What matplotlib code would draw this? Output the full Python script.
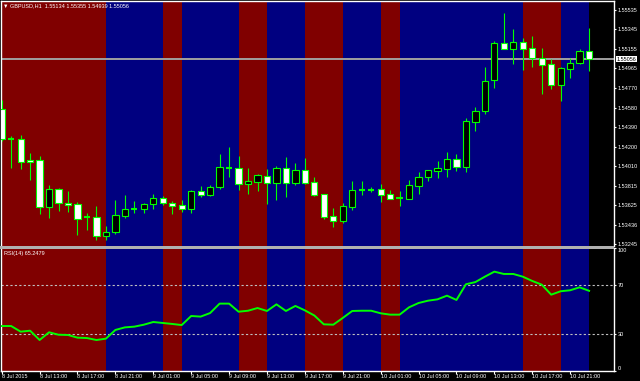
import numpy as np
import matplotlib.pyplot as plt
from matplotlib.patches import Rectangle
from matplotlib.transforms import blended_transform_factory

plt.rcParams['font.family'] = ['Liberation Sans', 'DejaVu Sans']

# GBPUSD H1 bars, 8 Jul 2015 09:00 .. 10 Jul 2015 23:00
opens = [1.54567, 1.54274, 1.54274, 1.54064, 1.54069, 1.53612, 1.53785, 1.53649, 1.53639, 1.53507,
         1.53512, 1.53329, 1.53368, 1.53524, 1.53590, 1.53587, 1.53642, 1.53695, 1.53649, 1.53626,
         1.53587, 1.53766, 1.53727, 1.53802, 1.53991, 1.53988, 1.53831, 1.53854, 1.53915, 1.53844,
         1.53988, 1.53841, 1.53968, 1.53854, 1.53733, 1.53522, 1.53470, 1.53609, 1.53771, 1.53776,
         1.53782, 1.53733, 1.53697, 1.53685, 1.53818, 1.53900, 1.53964, 1.53981, 1.54079, 1.54001,
         1.54443, 1.54545, 1.54848, 1.55215, 1.55151, 1.55222, 1.55161, 1.55069, 1.55004, 1.54799,
         1.54961, 1.55017, 1.55134]
highs = [1.54655, 1.54303, 1.54313, 1.54137, 1.54105, 1.53825, 1.53795, 1.53766, 1.53658, 1.53551,
         1.53622, 1.53427, 1.53675, 1.53727, 1.53668, 1.53651, 1.53737, 1.53717, 1.53668, 1.53678,
         1.53776, 1.53812, 1.53822, 1.54128, 1.54196, 1.54108, 1.53988, 1.53932, 1.53981, 1.54010,
         1.54098, 1.54039, 1.54085, 1.53906, 1.53737, 1.53600, 1.53649, 1.53864, 1.53861, 1.53802,
         1.53834, 1.53776, 1.53763, 1.53873, 1.53952, 1.53971, 1.54059, 1.54147, 1.54130, 1.54479,
         1.54584, 1.54981, 1.55229, 1.55503, 1.55346, 1.55264, 1.55278, 1.55161, 1.55053, 1.54978,
         1.55066, 1.55151, 1.55355]
lows = [1.54255, 1.53994, 1.53981, 1.53876, 1.53541, 1.53505, 1.53573, 1.53563, 1.53336, 1.53385,
        1.53284, 1.53290, 1.53349, 1.53499, 1.53554, 1.53554, 1.53591, 1.53629, 1.53544, 1.53558,
        1.53554, 1.53707, 1.53717, 1.53785, 1.53906, 1.53776, 1.53740, 1.53769, 1.53642, 1.53681,
        1.53710, 1.53821, 1.53839, 1.53717, 1.53489, 1.53417, 1.53450, 1.53583, 1.53730, 1.53753,
        1.53655, 1.53683, 1.53619, 1.53683, 1.53740, 1.53868, 1.53893, 1.53906, 1.53962, 1.53947,
        1.54355, 1.54516, 1.54773, 1.55151, 1.55004, 1.54952, 1.54975, 1.54717, 1.54766, 1.54649,
        1.54873, 1.55004, 1.54939]
closes = [1.54271, 1.54272, 1.54052, 1.54054, 1.53612, 1.53785, 1.53646, 1.53629, 1.53495, 1.53502,
          1.53329, 1.53368, 1.53534, 1.53590, 1.53595, 1.53639, 1.53695, 1.53651, 1.53622, 1.53587,
          1.53766, 1.53724, 1.53802, 1.53998, 1.53986, 1.53831, 1.53864, 1.53919, 1.53841, 1.53988,
          1.53841, 1.53968, 1.53847, 1.53724, 1.53512, 1.53473, 1.53616, 1.53773, 1.53776, 1.53781,
          1.53724, 1.53685, 1.53692, 1.53822, 1.53903, 1.53968, 1.53988, 1.54076, 1.54001, 1.54447,
          1.54545, 1.54838, 1.55210, 1.55151, 1.55219, 1.55154, 1.55069, 1.55000, 1.54802, 1.54968,
          1.55020, 1.55134, 1.55056]

rsi = [36.5, 36.5, 31.9, 32.7, 25.1, 31.4, 29.4, 29.2, 27.0, 26.7,
       25.1, 26.2, 33.3, 35.4, 36.0, 37.6, 39.8, 39.0, 38.2, 37.3,
       44.7, 44.2, 47.1, 54.8, 54.8, 48.2, 49.0, 51.2, 48.8, 54.2,
       48.8, 52.9, 49.3, 45.1, 37.9, 37.6, 43.1, 48.8, 49.0, 49.0,
       46.9, 45.8, 45.8, 51.8, 55.3, 57.2, 58.3, 61.3, 57.8, 70.6,
       72.4, 76.8, 80.9, 79.0, 79.0, 76.8, 73.3, 70.3, 62.1, 64.9,
       65.7, 68.1, 65.25]

time_labels = ['8 Jul 2015', '8 Jul 13:00', '8 Jul 17:00', '8 Jul 21:00',
               '9 Jul 01:00', '9 Jul 05:00', '9 Jul 09:00', '9 Jul 13:00',
               '9 Jul 17:00', '9 Jul 21:00', '10 Jul 01:00', '10 Jul 05:00',
               '10 Jul 09:00', '10 Jul 13:00', '10 Jul 17:00', '10 Jul 21:00']
band_ends = [11, 17, 19, 25, 28, 32, 36, 40, 42, 55, 59, 62]
band_colors = ['#800000', '#000080'] * 6
price_ticks = [1.55535, 1.55345, 1.55155, 1.54965, 1.54770, 1.54580, 1.54390,
               1.54200, 1.54010, 1.53815, 1.53625, 1.53436, 1.53245]
rsi_levels = [70, 30]
rsi_ticks = [0, 30, 70, 100]
last_price = 1.55056
header = '\u25bc GBPUSD,H1  1.55134 1.55355 1.54939 1.55056'
rsi_title = 'RSI(14) 65.2479'

W, H = 640, 381
FS = 4.0
LIME = '#00ff00'

fig = plt.figure(figsize=(W / 100, H / 100), dpi=100, facecolor='black')


def px_axes(x0, y0, x1, y1):
    a = fig.add_axes([x0 / W, 1 - y1 / H, (x1 - x0) / W, (y1 - y0) / H])
    a.set_facecolor('black')
    return a


ax = px_axes(1, 1, 614.3, 246)
ax2 = px_axes(1, 248.25, 614.3, 370.75)

xlim = (-0.074, 64.66)
for a in (ax, ax2):
    a.set_xlim(*xlim)
    starts = [xlim[0]] + band_ends[:-1]
    for s, e, col in zip(starts, band_ends, band_colors):
        a.axvspan(s, e, color=col, lw=0, zorder=0)

# candles
x = np.arange(len(opens))
o, h, l, c = map(np.array, (opens, highs, lows, closes))
ax.axhline(last_price, color='#a0a0a0', lw=1.4, zorder=1)
ax.vlines(x, l, h, color=LIME, lw=0.8, zorder=3)
bw = 0.66
for i in x:
    lo, hi = min(o[i], c[i]), max(o[i], c[i])
    if hi - lo < 0.00006:
        ax.hlines(o[i], i - bw / 2, i + bw / 2, color=LIME, lw=1.5, zorder=4)
    else:
        fc = 'white' if c[i] < o[i] else 'black'
        ax.add_patch(Rectangle((i - bw / 2, lo), bw, hi - lo, facecolor=fc,
                               edgecolor=LIME, lw=0.8, zorder=4))

ax.set_ylim(1.532283, 1.556229)
ax.yaxis.tick_right()
ax.set_yticks(price_ticks)
ax.set_yticklabels(['%.5f' % p for p in price_ticks])
ax.set_xticks([])
ax.tick_params(axis='y', colors='white', labelsize=FS, length=1.5, width=0.8, pad=1)
for sp in ('top', 'left', 'right'):
    ax.spines[sp].set_color('white')
    ax.spines[sp].set_linewidth(1)
ax.spines['bottom'].set_visible(False)

tr = blended_transform_factory(ax.transAxes, ax.transData)
ax.text(1.004, last_price, '%.5f' % last_price, transform=tr, ha='left', va='center',
        color='black', fontsize=FS, clip_on=False,
        bbox=dict(facecolor='white', edgecolor='none', pad=0.6))

# RSI panel
ax2.plot(x, rsi, color=LIME, lw=1.4, zorder=3)
for lv in rsi_levels:
    ax2.axhline(lv, color='#c0c0c0', lw=0.8, ls=(0, (2, 2)), zorder=2)
ax2.set_ylim(0, 100)
ax2.yaxis.tick_right()
ax2.set_yticks(rsi_ticks)
ax2.set_yticklabels([str(t) for t in rsi_ticks])
ax2.tick_params(axis='y', colors='white', labelsize=FS, length=1.5, width=0.8, pad=1)
for lbl, t in zip(ax2.get_yticklabels(), rsi_ticks):
    if t == 100:
        lbl.set_va('top')
    elif t == 0:
        lbl.set_va('bottom')
ax2.set_xticks(np.arange(0, 61, 4))
ax2.set_xticklabels(time_labels)
ax2.tick_params(axis='x', colors='white', labelsize=FS, length=2, width=0.8, pad=0.6)
for lbl in ax2.get_xticklabels():
    lbl.set_ha('left')
for sp in ('bottom', 'left', 'right'):
    ax2.spines[sp].set_color('white')
    ax2.spines[sp].set_linewidth(1)
ax2.spines['top'].set_visible(False)

# separator between main chart and RSI window
fig.patches.append(Rectangle((0, 1 - 248.6 / H), 614.3 / W, 2.6 / H, transform=fig.transFigure,
                             facecolor='#b0b0b0', edgecolor='none'))

fig.text(3 / W, 1 - 6 / H, header, color='white', fontsize=FS, va='center', ha='left')
fig.text(4 / W, 1 - 253.5 / H, rsi_title, color='white', fontsize=FS, va='center', ha='left')

fig.savefig('out.png', dpi=100, facecolor='black')
